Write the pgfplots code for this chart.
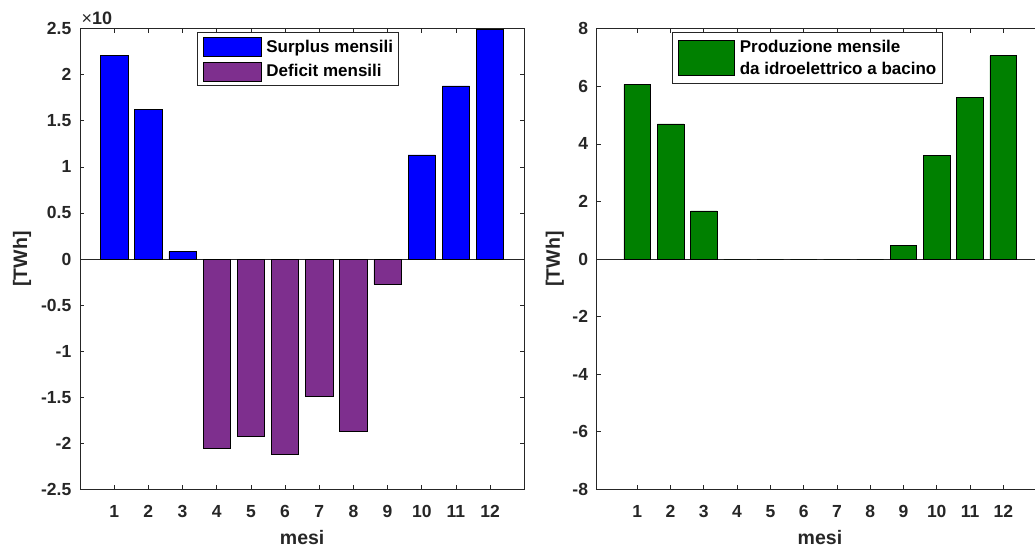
\documentclass[border=0pt]{standalone}
\usepackage{pgfplots}
\pgfplotsset{compat=1.18}
\usepackage{fontspec}
\setmainfont{Liberation Sans}

\definecolor{axgray}{HTML}{262626}
\definecolor{surplus}{HTML}{0000FF}
\definecolor{deficit}{HTML}{7E2F8E}
\definecolor{hydro}{HTML}{008000}

\newcommand{\labelfont}{\fontsize{19.5}{22}\selectfont\bfseries}

\pgfplotsset{
  matlabbox/.style={
    scale only axis,
    height=460.6pt,
    clip mode=individual,
    axis line style={axgray, line width=0.7pt},
    every tick/.style={axgray, line width=0.7pt},
    major tick length=4pt,
    xtick={1,...,12},
    xticklabels={1,2,3,4,5,6,7,8,9,10,11,12},
    tick label style={font=\fontsize{17.5}{20}\selectfont\bfseries, text=axgray, inner sep=0pt},
    xticklabel style={anchor=center, yshift=-22.4pt},
    yticklabel style={anchor=east, xshift=-8.5pt},
    xlabel={mesi},
    ylabel={[TWh]},
    every axis x label/.style={at={(axis description cs:0.5,-0.1057)}, anchor=center,
      font=\labelfont, text=axgray},
    legend cell align=left,
    legend style={
      draw=axgray, line width=0.6pt, fill=white,
      font=\fontsize{17}{22}\selectfont\bfseries, text=black,
      nodes={inner sep=0pt},
      inner xsep=5.5pt, inner ysep=4.2pt,
      column sep=5pt, row sep=5.3pt,
    },
  },
  monthbar/.style={ybar, bar width=0.8, bar shift=0pt, draw=black, line width=0.6pt},
}

\begin{document}
\begin{tikzpicture}

% Surplus / deficit mensili (valori in decine di TWh)
\begin{axis}[
  matlabbox,
  at={(80pt,62.7pt)}, anchor=south west,
  width=444.3pt,
  xmin=0, xmax=13,
  ymin=-2.5, ymax=2.5,
  ytick={-2.5,-2,-1.5,-1,-0.5,0,0.5,1,1.5,2,2.5},
  yticklabels={-2.5,-2,-1.5,-1,-0.5,0,0.5,1,1.5,2,2.5},
  every axis y label/.style={at={(axis description cs:-0.1305,0.5)}, rotate=90, anchor=center,
    font=\labelfont, text=axgray},
  legend style={at={(rel axis cs:0.264,0.992)}, anchor=north west},
  legend image code/.code={\draw[#1] (0pt,-9.5pt) rectangle (57.7pt,9.5pt);},
]
\addplot[axgray, line width=0.6pt, forget plot] coordinates {(0,0) (13,0)};
\addplot[monthbar, fill=surplus] coordinates {
  (1,2.21) (2,1.62) (3,0.08) (10,1.13) (11,1.88) (12,2.49)
};
\addlegendentry{Surplus mensili}
\addplot[monthbar, fill=deficit] coordinates {
  (4,-2.055) (5,-1.93) (6,-2.115) (7,-1.485) (8,-1.875) (9,-0.275)
};
\addlegendentry{Deficit mensili}
\node[anchor=south west, inner sep=0pt, text=axgray] at (rel axis cs:0,1) [xshift=1.5pt, yshift=4pt]
  {\fontsize{18}{20}\selectfont ×\textbf{10}};
\end{axis}

% Produzione mensile da idroelettrico a bacino
\begin{axis}[
  matlabbox,
  at={(596.7pt,62.7pt)}, anchor=south west,
  width=446.5pt,
  xmin=-0.22, xmax=13.2,
  ymin=-8, ymax=8,
  ytick={-8,-6,...,8},
  yticklabels={-8,-6,-4,-2,0,2,4,6,8},
  every axis y label/.style={at={(axis description cs:-0.094,0.5)}, rotate=90, anchor=center,
    font=\labelfont, text=axgray},
  legend style={at={(rel axis cs:0.168,0.9935)}, anchor=north west, inner ysep=7.8pt},
  legend image code/.code={\draw[#1] (0pt,-17.5pt) rectangle (56.7pt,17.5pt);},
]
\addplot[axgray, line width=0.6pt, forget plot] coordinates {(-0.22,0) (13.2,0)};
\addplot[monthbar, fill=hydro] coordinates {
  (1,6.07) (2,4.69) (3,1.67) (4,0) (5,0) (6,0) (7,0) (8,0)
  (9,0.46) (10,3.59) (11,5.6) (12,7.06)
};
\addlegendentry[align=left]{Produzione mensile\\da idroelettrico a bacino}
\end{axis}

\pgfresetboundingbox
\path[use as bounding box] (0pt,0pt) rectangle (1035pt,552pt);
\end{tikzpicture}
\end{document}
